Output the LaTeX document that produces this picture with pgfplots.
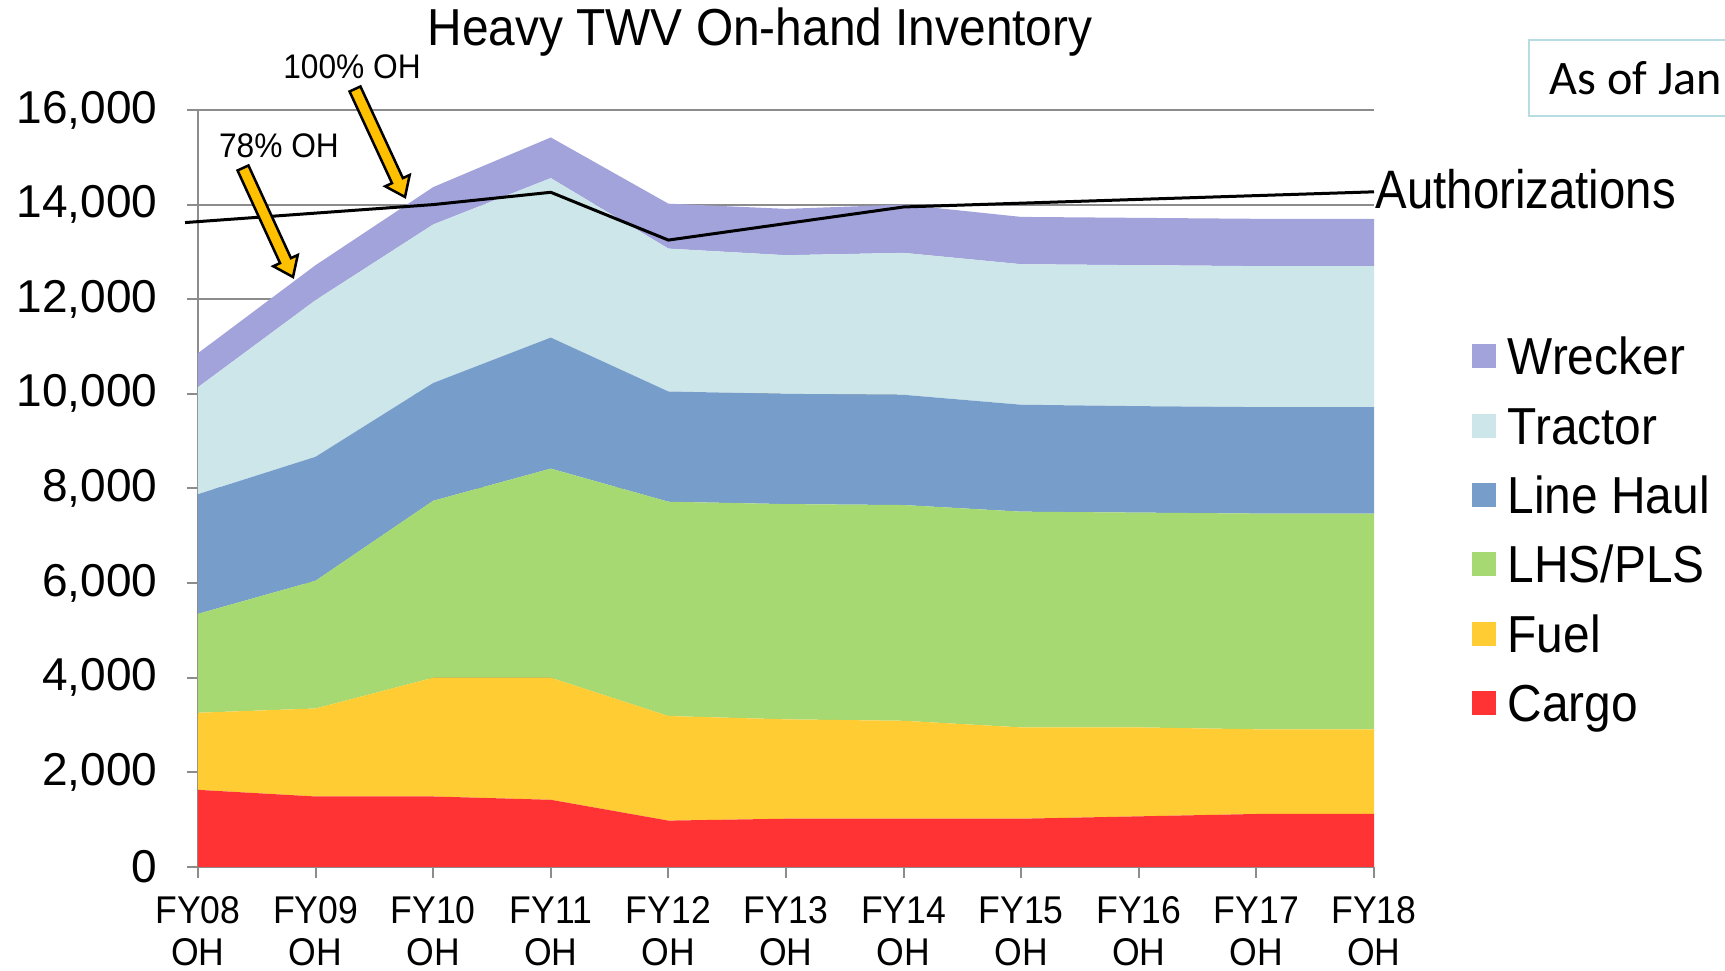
\documentclass[border=0pt]{standalone}
\usepackage{pgfplots}
\pgfplotsset{compat=1.18}
\usepackage{pgfplotstable}
\usepackage{graphicx}
\usepackage{fontspec}
\setmainfont{Liberation Sans}
\newfontfamily\calibri{Carlito}
\usetikzlibrary{calc}

\definecolor{cWrecker}{HTML}{A3A3DC}
\definecolor{cTractor}{HTML}{CCE6E9}
\definecolor{cLineHaul}{HTML}{779ECB}
\definecolor{cLHS}{HTML}{A6D971}
\definecolor{cFuel}{HTML}{FFCC33}
\definecolor{cCargo}{HTML}{FF3333}
\definecolor{gridgray}{HTML}{8C8C8C}
\definecolor{arrowy}{HTML}{FFC000}
\definecolor{boxcol}{HTML}{B7DDE3}

\newcommand\cx[1]{\scalebox{0.92}[1]{#1}}

\pgfplotstableread{
x cargo fuel lhs linehaul tractor wrecker
0  1630 1630 2090 2530 2260 720
1  1490 1860 2700 2620 3310 740
2  1490 2510 3740 2490 3350 790
3  1420 2580 4420 2770 3370 860
4  980  2210 4530 2330 3020 950
5  1020 2100 4550 2330 2930 980
6  1020 2070 4560 2330 3000 1020
7  1020 1930 4560 2260 2970 1000
8  1070 1880 4540 2250 2980 1000
9  1120 1790 4560 2250 2980 1000
10 1120 1790 4560 2250 2980 1000
}\heavy

\pgfplotstableread{
x auth
-0.11 13620
0  13640
1  13820
2  14000
3  14260
4  13250
5  13600
6  13950
7  14030
8  14110
9  14190
10 14270
}\auth

\newcommand\blockarrow[2]{%
  \coordinate (A) at #1; \coordinate (B) at #2;
  \coordinate (H) at ($(B)!1.8mm!(A)$);
  \filldraw[fill=arrowy, draw=black, line width=0.25mm, line join=miter]
    ($(A)!0.6mm!90:(B)$) -- ($(H)!0.6mm!90:(B)$) -- ($(H)!1.35mm!90:(B)$) -- (B)
    -- ($(H)!1.35mm!-90:(B)$) -- ($(H)!0.6mm!-90:(B)$) -- ($(A)!0.6mm!-90:(B)$) -- cycle;}

\begin{document}
\begin{tikzpicture}
\useasboundingbox (0,0) rectangle (172.5mm,97.1mm);
\clip (0,0) rectangle (172.5mm,97.1mm);
\begin{axis}[
  at={(19.8mm,10.4mm)}, anchor=south west,
  scale only axis, width=117.6mm, height=75.7mm,
  xmin=0, xmax=10, ymin=0, ymax=16000,
  axis lines=left,
  axis line style={-, draw=gridgray, line width=0.2mm},
  tick style={draw=gridgray, line width=0.2mm},
  tick align=outside,
  major tick length=1.1mm,
  ymajorgrids,
  grid style={draw=gridgray, line width=0.2mm},
  ytick={0,2000,...,16000},
  xtick={0,...,10},
  xticklabels={{\cx{FY08}\\\cx{OH}},{\cx{FY09}\\\cx{OH}},{\cx{FY10}\\\cx{OH}},{\cx{FY11}\\\cx{OH}},{\cx{FY12}\\\cx{OH}},{\cx{FY13}\\\cx{OH}},{\cx{FY14}\\\cx{OH}},{\cx{FY15}\\\cx{OH}},{\cx{FY16}\\\cx{OH}},{\cx{FY17}\\\cx{OH}},{\cx{FY18}\\\cx{OH}}},
  xticklabel style={align=center, inner sep=0pt, yshift=-1.8mm, font=\fontsize{11pt}{11.95pt}\selectfont},
  yticklabel style={inner sep=0pt, xshift=-2.9mm, font=\fontsize{13.1pt}{13.1pt}\selectfont},
  /pgf/number format/assume math mode=true,
  /pgf/number format/1000 sep={,},
  scaled y ticks=false,
  stack plots=y,
]
\addplot[draw=none, fill=cCargo] table[x=x,y=cargo]{\heavy} \closedcycle;
\addplot[draw=none, fill=cFuel] table[x=x,y=fuel]{\heavy} \closedcycle;
\addplot[draw=none, fill=cLHS] table[x=x,y=lhs]{\heavy} \closedcycle;
\addplot[draw=none, fill=cLineHaul] table[x=x,y=linehaul]{\heavy} \closedcycle;
\addplot[draw=none, fill=cTractor] table[x=x,y=tractor]{\heavy} \closedcycle;
\addplot[draw=none, fill=cWrecker] table[x=x,y=wrecker]{\heavy} \closedcycle;
\end{axis}
\begin{axis}[
  at={(19.8mm,10.4mm)}, anchor=south west,
  scale only axis, width=117.6mm, height=75.7mm,
  xmin=0, xmax=10, ymin=0, ymax=16000,
  hide axis, clip=false,
]
\addplot[black, line width=0.3mm] table[x=x,y=auth]{\auth};
\end{axis}
\begin{scope}[x=0.1mm, y=-0.1mm, shift={(0mm,97.1mm)}]
  \node[anchor=base, inner sep=0pt, font=\fontsize{14.8pt}{14.8pt}\selectfont] at (760,46) {\scalebox{0.92}[1]{Heavy TWV On-hand Inventory}};
  \node[anchor=base, inner sep=0pt, font=\fontsize{9.7pt}{9.7pt}\selectfont] at (352,79) {\scalebox{0.93}[1]{100\% OH}};
  \node[anchor=base, inner sep=0pt, font=\fontsize{9.7pt}{9.7pt}\selectfont] at (279,158) {\scalebox{0.93}[1]{78\% OH}};
  \blockarrow{(355,89)}{(405,197)}
  \blockarrow{(243,168)}{(293,277)}
  \node[anchor=base west, inner sep=0pt, font=\fontsize{15.4pt}{15.4pt}\selectfont] at (1375,209) {\scalebox{0.875}[1]{Authorizations}};
  % legend
  \foreach \c/\t [count=\i from 0] in {cWrecker/Wrecker, cTractor/Tractor, cLineHaul/Line Haul, cLHS/LHS\slash PLS, cFuel/Fuel, cCargo/Cargo}{
    \pgfmathsetmacro\yc{356.4+69.3*\i}
    \fill[\c] (1472,\yc-12) rectangle (1496,\yc+12);
    \node[anchor=base west, inner sep=0pt, font=\fontsize{14.8pt}{14.8pt}\selectfont] at (1507,\yc+18.5) {\scalebox{0.92}[1]{\t}};
  }
  \draw[boxcol, line width=0.15mm] (1529,40) rectangle (1780,116);
  \node[anchor=base west, inner sep=0pt, font=\calibri\fontsize{13.7pt}{13.7pt}\selectfont] at (1549,95) {As of Jan};
\end{scope}
\end{tikzpicture}
\end{document}
